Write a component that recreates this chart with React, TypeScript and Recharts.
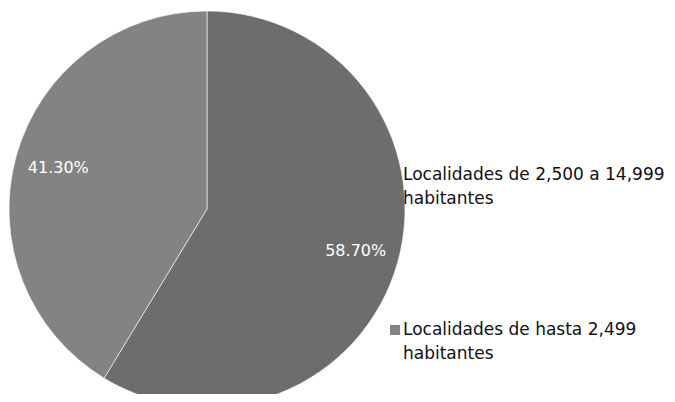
import React from "react";
import { PieChart, Pie, Cell, Legend } from "recharts";

const categories = [
  "Localidades de 2,500 a 14,999 habitantes",
  "Localidades de hasta 2,499 habitantes",
];
const values = [58.7, 41.3];
const labels = ["58.70%", "41.30%"];
const colors = ["#6d6d6d", "#838383"];

const data = categories.map((name, i) => ({ name, value: values[i], label: labels[i] }));

const FONT = "'DejaVu Sans', sans-serif";

const RADIAN = Math.PI / 180;

const renderLabel = (props: any) => {
  const { cx, cy, midAngle, outerRadius, index } = props;
  const r = outerRadius * 0.78;
  const x = cx + r * Math.cos(-midAngle * RADIAN);
  const y = cy + r * Math.sin(-midAngle * RADIAN);
  return (
    <text
      x={x}
      y={y}
      fill="#ffffff"
      textAnchor="middle"
      dominantBaseline="central"
      style={{ fontFamily: FONT, fontSize: 16 }}
    >
      {labels[index]}
    </text>
  );
};

const LegendBox = () => (
  <div style={{ fontFamily: FONT, fontSize: 17, color: "#111", lineHeight: "24px" }}>
    {categories.map((c, i) => {
      const words = c.split(" ");
      const last = words.pop();
      return (
        <div
          key={c}
          style={{ display: "flex", alignItems: "flex-start", marginBottom: i === 0 ? 107 : 0 }}
        >
          <span
            style={{
              display: "inline-block",
              width: 10,
              height: 10,
              background: colors[i],
              marginTop: 8,
              marginRight: 3,
            }}
          />
          <span>
            {words.join(" ")}
            <br />
            {last}
          </span>
        </div>
      );
    })}
  </div>
);

export default function App() {
  return (
    <div style={{ width: 675, height: 402, margin: -8, background: "#fff", position: "relative", overflow: "hidden" }}>
      <PieChart width={675} height={402} style={{ fontFamily: FONT }}>
        <Pie
          data={data}
          dataKey="value"
          nameKey="name"
          cx={202}
          cy={204}
          outerRadius={198}
          startAngle={90}
          endAngle={-270}
          stroke="#ffffff"
          strokeWidth={0.6}
          label={renderLabel}
          labelLine={false}
          isAnimationActive={false}
        >
          {data.map((d, i) => (
            <Cell key={d.name} fill={colors[i]} />
          ))}
        </Pie>
        <Legend
          content={<LegendBox />}
          wrapperStyle={{ position: "absolute", left: 390, top: 162, width: 285 }}
        />
      </PieChart>
    </div>
  );
}
